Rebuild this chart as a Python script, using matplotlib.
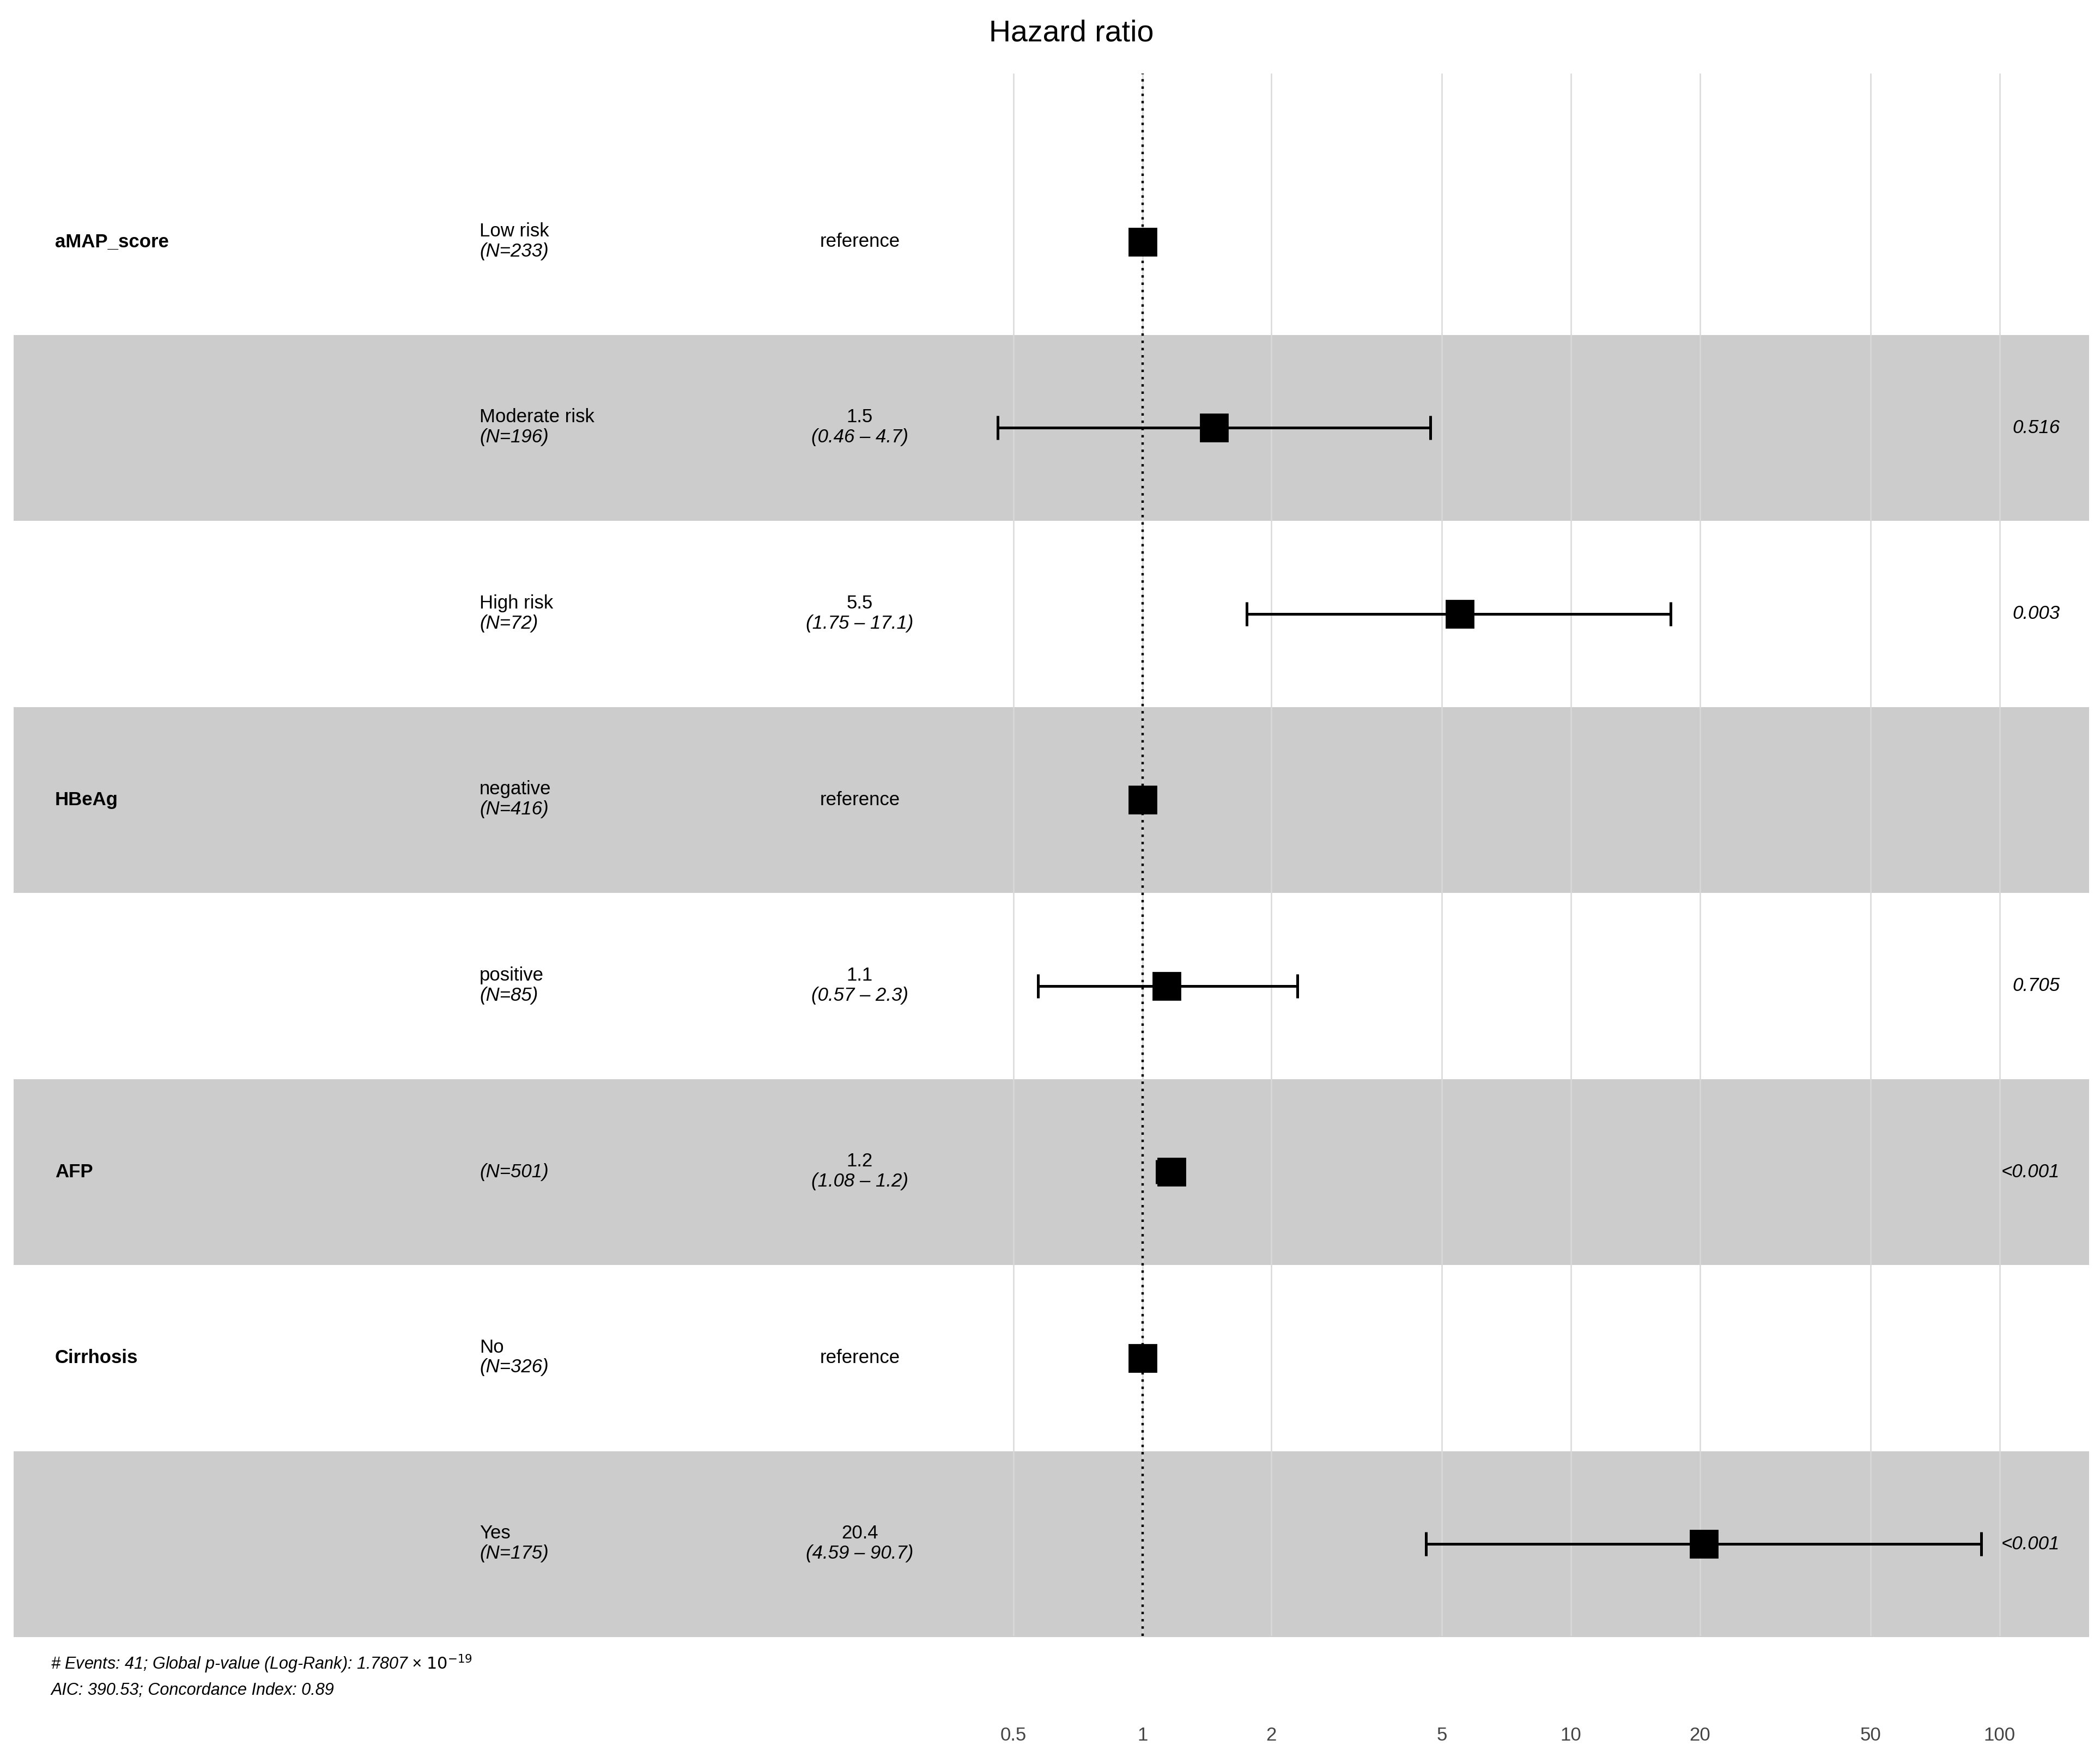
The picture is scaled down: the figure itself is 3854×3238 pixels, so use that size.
import numpy as np
import matplotlib
matplotlib.use("Agg")
import matplotlib.pyplot as plt

variables = ["aMAP_score", "", "", "HBeAg", "", "AFP", "Cirrhosis", ""]
levels = ["Low risk", "Moderate risk", "High risk", "negative", "positive", "", "No", "Yes"]
n_labels = ["(N=233)", "(N=196)", "(N=72)", "(N=416)", "(N=85)", "(N=501)", "(N=326)", "(N=175)"]
hr = [1.0, 1.47, 5.5, 1.0, 1.14, 1.17, 1.0, 20.4]
lower = [np.nan, 0.46, 1.75, np.nan, 0.57, 1.08, np.nan, 4.59]
upper = [np.nan, 4.7, 17.1, np.nan, 2.3, 1.2, np.nan, 90.7]
hr_text = ["reference", "1.5", "5.5", "reference", "1.1", "1.2", "reference", "20.4"]
ci_text = ["", "(0.46 \u2013 4.7)", "(1.75 \u2013 17.1)", "", "(0.57 \u2013 2.3)", "(1.08 \u2013 1.2)", "", "(4.59 \u2013 90.7)"]
p_text = ["", "0.516", "0.003", "", "0.705", "<0.001", "", "<0.001"]
xticks = [0.5, 1, 2, 5, 10, 20, 50, 100]
xtick_labels = ["0.5", "1", "2", "5", "10", "20", "50", "100"]

plt.rcParams['font.family'] = ['Liberation Sans', 'DejaVu Sans']
W, H = 1568, 1320
fig = plt.figure(figsize=(19.27, 16.19), dpi=200)
bg = fig.add_axes([0, 0, 1, 1])
bg.set_xlim(0, W); bg.set_ylim(H, 0); bg.axis("off")

row_h = 139.2
y0 = 181
ys = [y0 + i * row_h for i in range(len(hr))]
for i, y in enumerate(ys):
    if i % 2 == 1:
        bg.add_patch(plt.Rectangle((10, y - row_h / 2), 1550, row_h, color="#cccccc", lw=0, zorder=0))

fs = 12.5
for i, y in enumerate(ys):
    if variables[i]:
        bg.text(41, y, variables[i], fontsize=fs, fontweight="bold", va="center", ha="left")
    if levels[i]:
        bg.text(358, y - 8, levels[i], fontsize=fs, va="center", ha="left")
        bg.text(358, y + 7, n_labels[i], fontsize=fs, style="italic", va="center", ha="left")
    else:
        bg.text(358, y, n_labels[i], fontsize=fs, style="italic", va="center", ha="left")
    if ci_text[i]:
        bg.text(642, y - 8, hr_text[i], fontsize=fs, va="center", ha="center")
        bg.text(642, y + 7, ci_text[i], fontsize=fs, style="italic", va="center", ha="center")
    else:
        bg.text(642, y, hr_text[i], fontsize=fs, va="center", ha="center")
    if p_text[i]:
        bg.text(1538, y, p_text[i], fontsize=fs, style="italic", va="center", ha="right")

bg.text(800, 25, "Hazard ratio", fontsize=20, ha="center", va="center")
bg.text(38, 1245, "# Events: 41; Global p-value (Log-Rank): 1.7807 \u00d7 $10^{-19}$",
        fontsize=11, style="italic", va="center", ha="left")
bg.text(38, 1265, "AIC: 390.53; Concordance Index: 0.89", fontsize=11, style="italic",
        va="center", ha="left")

# forest axes
xl, xr, yt, yb = 700, 1560, 55, 1224
ax = fig.add_axes([xl / W, 1 - yb / H, (xr - xl) / W, (yb - yt) / H])
ax.patch.set_alpha(0)
ax.set_xscale("log")
lo = 10 ** ((xl - 853) / 320)
hi = 10 ** ((xr - 853) / 320)
ax.set_xlim(lo, hi)
ax.set_ylim(yb, yt)
for s in ax.spines.values():
    s.set_visible(False)
ax.set_yticks([])
ax.set_xticks(xticks)
ax.set_xticklabels(xtick_labels, fontsize=12.5, color="#444444")
ax.xaxis.set_minor_locator(matplotlib.ticker.NullLocator())
ax.tick_params(axis="x", length=0, pad=60)
for t in xticks:
    ax.axvline(t, color="#d9d9d9", lw=0.9, zorder=0)
ax.axvline(1, color="black", lw=1.6, ls=(0, (1, 2)), zorder=1)
for i, y in enumerate(ys):
    if not np.isnan(lower[i]):
        ax.errorbar(hr[i], y, xerr=[[hr[i] - lower[i]], [upper[i] - hr[i]]], fmt="none",
                    ecolor="black", elinewidth=1.8, capsize=8, capthick=1.8, zorder=2)
    ax.plot(hr[i], y, marker="s", color="black", markersize=18, ls="none", zorder=3)

fig.savefig("out.png", dpi=200)
